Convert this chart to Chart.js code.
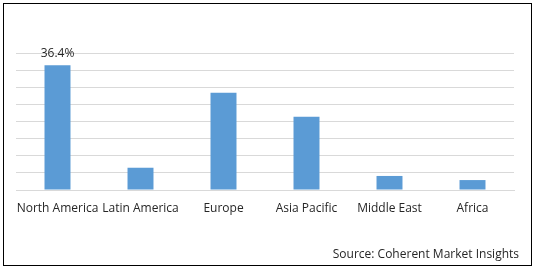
<!DOCTYPE html>
<html>
<head>
<meta charset="utf-8">
<script src="https://cdn.jsdelivr.net/npm/chart.js@4"></script>
<style>
  html, body { margin: 0; padding: 0; background: #fff; }
  #wrap { width: 534px; height: 271px; position: relative; }
</style>
</head>
<body>
<div id="wrap"><canvas id="marketChart" width="534" height="271"></canvas></div>
<script>
// Datos del gráfico
const regions = ['North America', 'Latin America', 'Europe', 'Asia Pacific', 'Middle East', 'Africa'];
const shareValues = [36.4, 6.5, 28.4, 21.4, 4.1, 2.9];
const labelledBars = ['36.4%', null, null, null, null, null];
const sourceText = 'Source: Coherent Market Insights';

const FONT = '"Open Sans", sans-serif';
const TEXT_COLOR = '#262626';

// Marco, etiqueta de valor y fuente
const extrasPlugin = {
  id: 'extras',
  afterDraw(chart) {
    const ctx = chart.ctx;
    ctx.save();
    ctx.strokeStyle = '#000';
    ctx.lineWidth = 1;
    ctx.strokeRect(3.5, 3.5, 528, 262);

    ctx.fillStyle = TEXT_COLOR;
    ctx.font = '12px ' + FONT;
    ctx.textAlign = 'center';
    ctx.textBaseline = 'middle';
    const meta = chart.getDatasetMeta(0);
    meta.data.forEach((bar, i) => {
      if (labelledBars[i]) ctx.fillText(labelledBars[i], bar.x, bar.y - 12);
    });

    ctx.textAlign = 'right';
    ctx.fillText(sourceText, 519, 255);
    ctx.restore();
  }
};

new Chart(document.getElementById('marketChart').getContext('2d'), {
  type: 'bar',
  data: {
    labels: regions,
    datasets: [{
      data: shareValues,
      backgroundColor: '#5b9bd5',
      barPercentage: 0.313,
      categoryPercentage: 1
    }]
  },
  options: {
    responsive: false,
    animation: false,
    layout: { padding: { left: 16, right: 20, top: 53, bottom: 0 } },
    plugins: { legend: { display: false }, tooltip: { enabled: false } },
    scales: {
      x: {
        grid: { display: false, drawTicks: false },
        border: { color: '#d9d9d9' },
        ticks: { color: TEXT_COLOR, font: { family: FONT, size: 12 }, padding: 11, maxRotation: 0, autoSkip: false },
        afterFit: s => { s.height = 81; }
      },
      y: {
        min: 0, max: 40,
        ticks: { display: false, stepSize: 5 },
        grid: { color: '#d9d9d9', drawTicks: false },
        border: { display: false },
        afterFit: s => { s.width = 0; }
      }
    }
  },
  plugins: [extrasPlugin]
});
</script>
</body>
</html>
